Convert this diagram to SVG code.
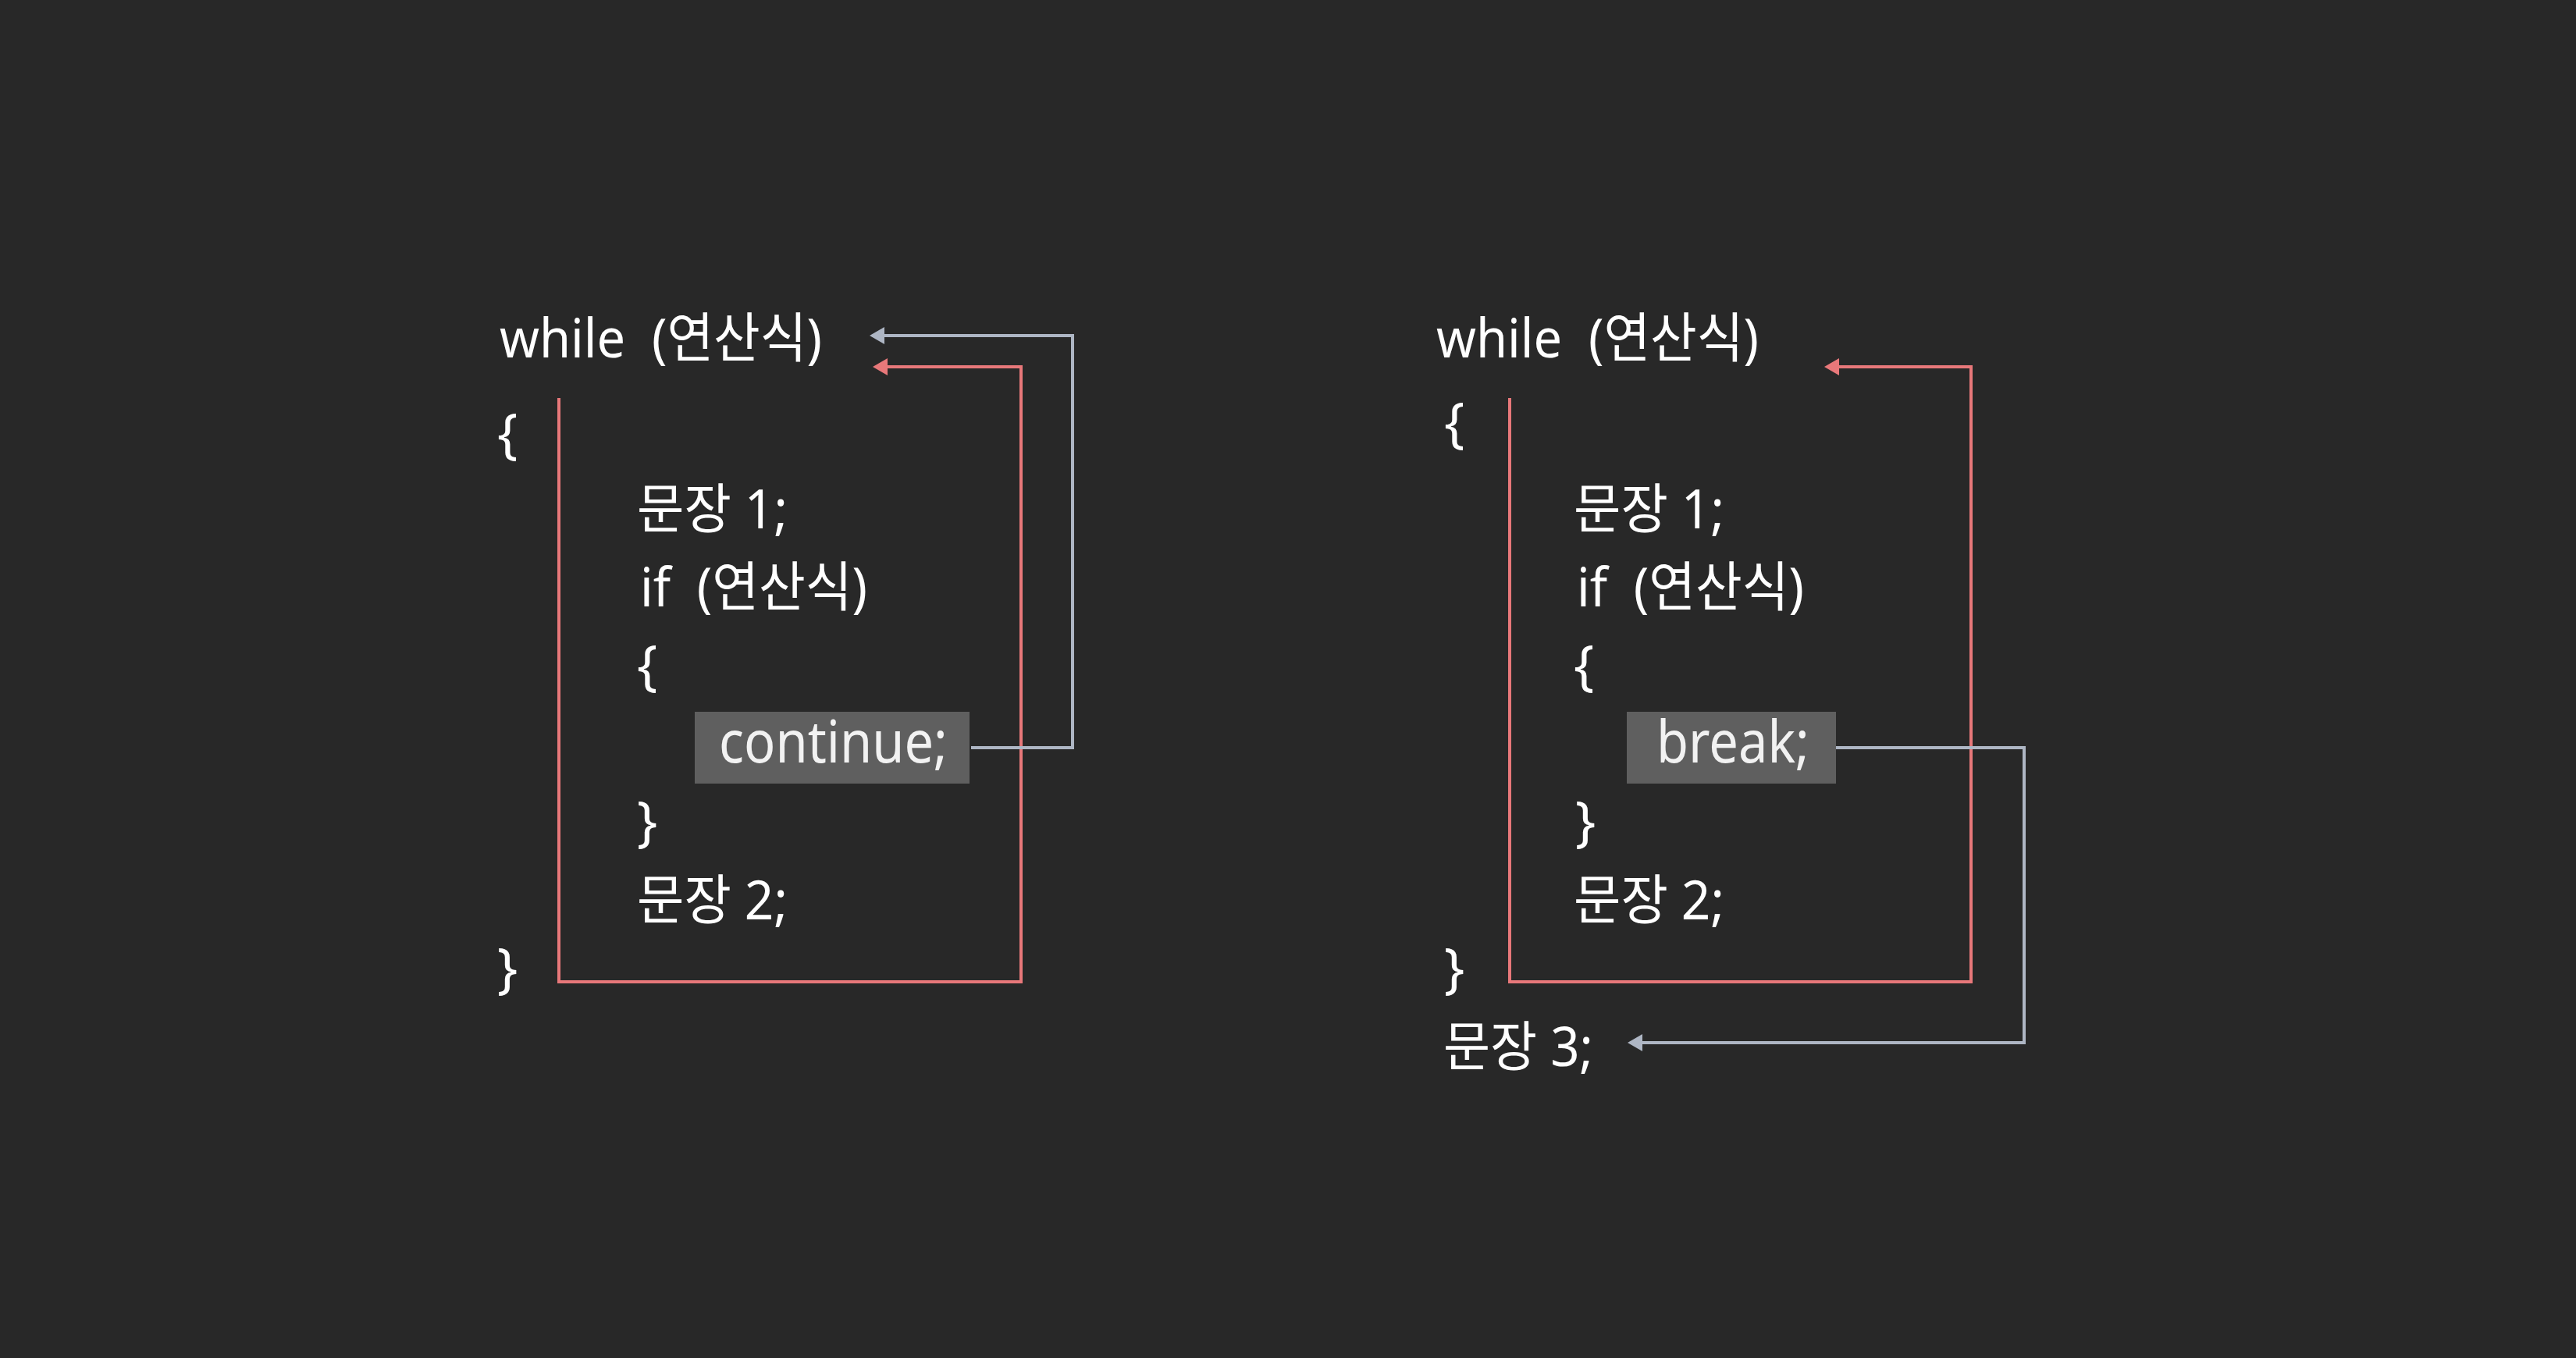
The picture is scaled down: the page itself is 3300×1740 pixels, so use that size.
<svg xmlns="http://www.w3.org/2000/svg" width="3300" height="1740" viewBox="0 0 3300 1740">
<style>
.t{font-family:"Noto Sans","Noto Sans CJK KR",sans-serif;font-size:69px;fill:#ffffff;white-space:pre}
.k{font-family:"Noto Sans","Noto Sans CJK KR",sans-serif;font-size:75px;fill:#f2f2f2;white-space:pre}
.box{fill:#5f5f5f}
.red{fill:none;stroke:#e8787a;stroke-width:4}
.gray{fill:none;stroke:#aeb6c4;stroke-width:4}
</style>
<defs>
<marker id="ar" markerWidth="19" markerHeight="22" refX="0" refY="11" orient="auto" markerUnits="userSpaceOnUse"><path d="M0,0 L19,11 L0,22 Z" fill="#e8787a"/></marker>
<marker id="ag" markerWidth="19" markerHeight="22" refX="0" refY="11" orient="auto" markerUnits="userSpaceOnUse"><path d="M0,0 L19,11 L0,22 Z" fill="#aeb6c4"/></marker>
</defs>
<rect width="3300" height="1740" fill="#282828"/>
<g id="connectors">
<path class="red" d="M716,510 V1258 H1308 V470 H1137" marker-end="url(#ar)"/>
<path class="gray" d="M1244,958 H1374 V430 H1133" marker-end="url(#ag)"/>
<path class="red" d="M1934,510 V1258 H2525 V470 H2356" marker-end="url(#ar)"/>
<path class="gray" d="M2352,958 H2593 V1336 H2104" marker-end="url(#ag)"/>
</g>
<g id="left-code">
<text class="t" x="640" y="458" textLength="413" lengthAdjust="spacingAndGlyphs">while  (연산식)</text>
<text class="t" x="637" y="580">{</text>
<text class="t" x="816" y="677" textLength="193" lengthAdjust="spacingAndGlyphs">문장 1;</text>
<text class="t" x="820" y="777" textLength="291" lengthAdjust="spacingAndGlyphs">if  (연산식)</text>
<text class="t" x="816" y="877">{</text>
<text class="t" x="816" y="1077">}</text>
<text class="t" x="816" y="1178" textLength="193" lengthAdjust="spacingAndGlyphs">문장 2;</text>
<text class="t" x="637" y="1265">}</text>
</g>
<g id="continue-node">
<rect class="box" x="890" y="912" width="352" height="92"/>
<text class="k" x="921" y="977" textLength="293" lengthAdjust="spacingAndGlyphs">continue;</text>
</g>
<g id="right-code">
<text class="t" x="1840" y="458" textLength="413" lengthAdjust="spacingAndGlyphs">while  (연산식)</text>
<text class="t" x="1850" y="566">{</text>
<text class="t" x="2016" y="677" textLength="193" lengthAdjust="spacingAndGlyphs">문장 1;</text>
<text class="t" x="2020" y="777" textLength="291" lengthAdjust="spacingAndGlyphs">if  (연산식)</text>
<text class="t" x="2016" y="877">{</text>
<text class="t" x="2018" y="1077">}</text>
<text class="t" x="2016" y="1178" textLength="193" lengthAdjust="spacingAndGlyphs">문장 2;</text>
<text class="t" x="1850" y="1265">}</text>
<text class="t" x="1849" y="1366" textLength="192" lengthAdjust="spacingAndGlyphs">문장 3;</text>
</g>
<g id="break-node">
<rect class="box" x="2084" y="912" width="268" height="92"/>
<text class="k" x="2122" y="977" textLength="196" lengthAdjust="spacingAndGlyphs">break;</text>
</g>
</svg>
